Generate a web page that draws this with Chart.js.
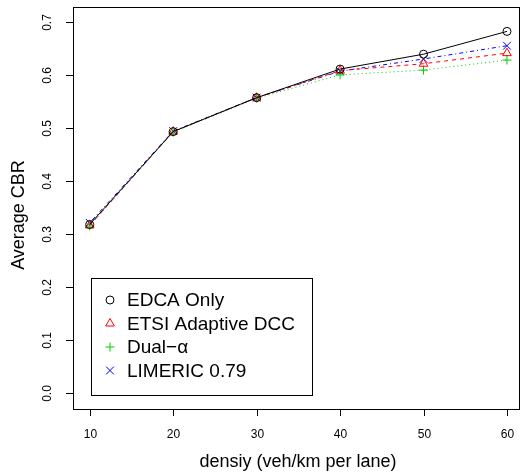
<!DOCTYPE html>
<html>
<head>
<meta charset="utf-8">
<script src="https://cdn.jsdelivr.net/npm/chart.js@4.4.1/dist/chart.umd.min.js"></script>
<style>
  html, body { margin: 0; padding: 0; background: #fff; }
  canvas { display: block; }
</style>
</head>
<body>
<canvas id="cbrChart" width="520" height="476"></canvas>
<script>
const densities = [10, 20, 30, 40, 50, 60];
const edcaOnly = [0.318, 0.493, 0.557, 0.611, 0.639, 0.682];
const etsiAdaptive = [0.316, 0.493, 0.557, 0.608, 0.621, 0.641];
const dualAlpha = [0.315, 0.492, 0.556, 0.600, 0.609, 0.628];
const limeric = [0.321, 0.494, 0.557, 0.607, 0.630, 0.655];

const xTicks = [10, 20, 30, 40, 50, 60];
const yTicks = [0, 0.1, 0.2, 0.3, 0.4, 0.5, 0.6, 0.7];
const yTickLabels = ["0.0", "0.1", "0.2", "0.3", "0.4", "0.5", "0.6", "0.7"];

const FONT = '"Liberation Sans", Arial, Helvetica, sans-serif';

function toPoints(values) {
  return densities.map((d, i) => ({ x: d, y: values[i] }));
}

// R-style box, ticks, labels and legend drawn on top of the hidden scales
const rAxesPlugin = {
  id: 'rAxes',
  afterDraw(chart) {
    const ctx = chart.ctx;
    const area = chart.chartArea;
    const xs = chart.scales.x;
    const ys = chart.scales.y;

    ctx.save();
    ctx.strokeStyle = '#000';
    ctx.lineWidth = 1;
    ctx.strokeRect(Math.round(area.left) + 0.5, Math.round(area.top) + 0.5,
      Math.round(area.right - area.left), Math.round(area.bottom - area.top));

    ctx.fillStyle = '#000';
    ctx.font = '12px ' + FONT;

    // x ticks
    ctx.textAlign = 'center';
    ctx.textBaseline = 'middle';
    xTicks.forEach(v => {
      const px = Math.round(xs.getPixelForValue(v)) + 0.5;
      ctx.beginPath();
      ctx.moveTo(px, area.bottom);
      ctx.lineTo(px, area.bottom + 7);
      ctx.stroke();
      ctx.fillText(String(v), px, area.bottom + 26);
    });

    // y ticks (rotated labels)
    yTicks.forEach((v, i) => {
      const py = Math.round(ys.getPixelForValue(v)) + 0.5;
      ctx.beginPath();
      ctx.moveTo(area.left, py);
      ctx.lineTo(area.left - 7, py);
      ctx.stroke();
      ctx.save();
      ctx.translate(area.left - 25, py);
      ctx.rotate(-Math.PI / 2);
      ctx.fillText(yTickLabels[i], 0, 0);
      ctx.restore();
    });

    // axis titles
    ctx.font = '18px ' + FONT;
    ctx.fillText('densiy (veh/km per lane)', 298, 462);
    ctx.save();
    ctx.translate(19, 215);
    ctx.rotate(-Math.PI / 2);
    ctx.fillText('Average CBR', 0, 0);
    ctx.restore();

    // legend
    const box = { x: 91, y: 278, w: 221, h: 117 };
    ctx.fillStyle = '#fff';
    ctx.fillRect(box.x, box.y, box.w, box.h);
    ctx.strokeRect(box.x + 0.5, box.y + 0.5, box.w, box.h);
    ctx.font = '19px ' + FONT;
    ctx.textAlign = 'left';
    chart.data.datasets.forEach((ds, i) => {
      const cy = 300 + i * 23.5;
      ctx.strokeStyle = ds.borderColor;
      ctx.fillStyle = 'rgba(0,0,0,0)';
      ctx.lineWidth = 1;
      ctx.setLineDash([]);
      Chart.helpers.drawPoint(ctx, {
        pointStyle: ds.pointStyle,
        radius: ds.pointRadius,
        borderWidth: 1,
        rotation: 0
      }, 110, cy);
      ctx.fillStyle = '#000';
      ctx.fillText(ds.label, 127, cy + 1);
    });
    ctx.restore();
  }
};

function makeSeries(label, values, color, style, dash, radius) {
  return {
    label: label,
    data: toPoints(values),
    borderColor: color,
    backgroundColor: 'rgba(0,0,0,0)',
    pointBorderColor: color,
    pointBackgroundColor: 'rgba(0,0,0,0)',
    pointStyle: style,
    pointRadius: radius,
    pointBorderWidth: 1,
    borderWidth: 1,
    borderDash: dash,
    tension: 0,
    fill: false
  };
}

new Chart(document.getElementById('cbrChart').getContext('2d'), {
  type: 'line',
  data: {
    datasets: [
      makeSeries('EDCA Only', edcaOnly, '#000000', 'circle', [], 4),
      makeSeries('ETSI Adaptive DCC', etsiAdaptive, '#ff0000', 'triangle', [4, 4], 5),
      makeSeries('Dual\u2212\u03b1', dualAlpha, '#00cd00', 'cross', [1, 3], 4.5),
      makeSeries('LIMERIC 0.79', limeric, '#0000ff', 'crossRot', [1, 3, 4, 3], 5.5)
    ]
  },
  options: {
    responsive: false,
    animation: false,
    layout: { autoPadding: false, padding: { left: 73, top: 7, right: 1, bottom: 67 } },
    plugins: { legend: { display: false }, tooltip: { enabled: false } },
    scales: {
      x: { type: 'linear', min: 8, max: 61.44, display: false },
      y: { type: 'linear', min: -0.03, max: 0.728, display: false }
    }
  },
  plugins: [rAxesPlugin]
});
</script>
</body>
</html>
